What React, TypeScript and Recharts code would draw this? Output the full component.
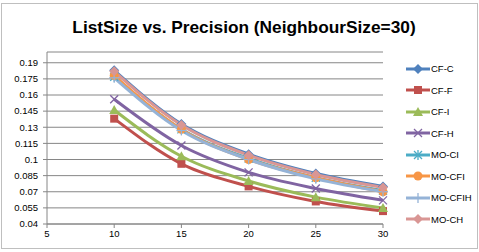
import React from "react";
import {
  LineChart,
  Line,
  XAxis,
  YAxis,
  CartesianGrid,
  Legend,
} from "recharts";

const listSizes = [10, 15, 20, 25, 30];
const xTicks = [5, 10, 15, 20, 25, 30];
const yTicks = [0.04, 0.055, 0.07, 0.085, 0.1, 0.115, 0.13, 0.145, 0.16, 0.175, 0.19];

const cfC = [0.183, 0.133, 0.105, 0.087, 0.075];
const cfF = [0.138, 0.096, 0.075, 0.061, 0.052];
const cfI = [0.146, 0.103, 0.08, 0.065, 0.055];
const cfH = [0.156, 0.113, 0.088, 0.073, 0.062];
const moCI = [0.177, 0.128, 0.101, 0.083, 0.071];
const moCFI = [0.178, 0.128, 0.1, 0.083, 0.07];
const moCFIH = [0.176, 0.127, 0.1, 0.082, 0.07];
const moCH = [0.182, 0.132, 0.104, 0.086, 0.074];

type Shape = "diamond" | "square" | "triangle" | "x" | "star" | "circle" | "plus";

const series: { key: string; values: number[]; color: string; shape: Shape }[] = [
  { key: "CF-C", values: cfC, color: "#4F81BD", shape: "diamond" },
  { key: "CF-F", values: cfF, color: "#C0504D", shape: "square" },
  { key: "CF-I", values: cfI, color: "#9BBB59", shape: "triangle" },
  { key: "CF-H", values: cfH, color: "#8064A2", shape: "x" },
  { key: "MO-CI", values: moCI, color: "#4BACC6", shape: "star" },
  { key: "MO-CFI", values: moCFI, color: "#F79646", shape: "circle" },
  { key: "MO-CFIH", values: moCFIH, color: "#95B3D7", shape: "plus" },
  { key: "MO-CH", values: moCH, color: "#D99694", shape: "diamond" },
];

const data = listSizes.map((x, i) => {
  const row: Record<string, number> = { x };
  series.forEach((s) => {
    row[s.key] = s.values[i];
  });
  return row;
});

const FONT = "'Liberation Sans', Arial, sans-serif";

const Marker = ({ shape, color, cx, cy }: { shape: Shape; color: string; cx: number; cy: number }) => {
  switch (shape) {
    case "diamond":
      return (
        <polygon
          points={`${cx},${cy - 5} ${cx + 5},${cy} ${cx},${cy + 5} ${cx - 5},${cy}`}
          fill={color}
        />
      );
    case "square":
      return <rect x={cx - 4} y={cy - 4} width={8} height={8} fill={color} />;
    case "triangle":
      return (
        <polygon
          points={`${cx},${cy - 5} ${cx + 5},${cy + 4} ${cx - 5},${cy + 4}`}
          fill={color}
        />
      );
    case "x":
      return (
        <g stroke={color} strokeWidth={1.3}>
          <line x1={cx - 4} y1={cy - 4} x2={cx + 4} y2={cy + 4} />
          <line x1={cx - 4} y1={cy + 4} x2={cx + 4} y2={cy - 4} />
        </g>
      );
    case "star":
      return (
        <g stroke={color} strokeWidth={1.3}>
          <line x1={cx - 4} y1={cy - 4} x2={cx + 4} y2={cy + 4} />
          <line x1={cx - 4} y1={cy + 4} x2={cx + 4} y2={cy - 4} />
          <line x1={cx} y1={cy - 5} x2={cx} y2={cy + 5} />
        </g>
      );
    case "circle":
      return <circle cx={cx} cy={cy} r={4.5} fill={color} />;
    case "plus":
      return (
        <g stroke={color} strokeWidth={1.3}>
          <line x1={cx - 5} y1={cy} x2={cx + 5} y2={cy} />
          <line x1={cx} y1={cy - 5} x2={cx} y2={cy + 5} />
        </g>
      );
  }
  return null;
};

const renderLegend = () => (
  <div style={{ fontFamily: FONT, fontSize: 9.5, color: "#000" }}>
    {series.map((s) => (
      <div key={s.key} style={{ display: "flex", alignItems: "center", height: 21.5 }}>
        <svg width={24} height={12} style={{ display: "block" }}>
          <line x1={0} y1={6} x2={24} y2={6} stroke={s.color} strokeWidth={3} />
          <Marker shape={s.shape} color={s.color} cx={12} cy={6} />
        </svg>
        <span style={{ marginLeft: 1 }}>{s.key}</span>
      </div>
    ))}
  </div>
);

export default function App() {
  return (
    <div
      style={{
        position: "absolute",
        left: 0,
        top: 0,
        width: 479,
        height: 252,
        background: "#fff",
      }}
    >
      <div
        style={{
          position: "absolute",
          left: 1,
          top: 3,
          width: 475,
          height: 244,
          border: "1px solid #bfbfbf",
        }}
      />
      <div
        style={{
          position: "absolute",
          left: 0,
          top: 17,
          width: 488,
          textAlign: "center",
          fontFamily: FONT,
          fontWeight: "bold",
          fontSize: 17.3,
          color: "#000",
        }}
      >
        ListSize vs. Precision (NeighbourSize=30)
      </div>
      <div style={{ position: "absolute", left: 0, top: 0 }}>
        <LineChart
          width={479}
          height={252}
          data={data}
          margin={{ top: 52, right: 96, bottom: 0, left: 0 }}
        >
          <CartesianGrid vertical={false} stroke="#868686" strokeWidth={1} />
          <XAxis
            dataKey="x"
            type="number"
            domain={[5, 30]}
            ticks={xTicks}
            height={28}
            tickSize={4}
            stroke="#868686"
            tick={{ fill: "#000", fontSize: 9.5, fontFamily: FONT }}
            interval={0}
          />
          <YAxis
            type="number"
            domain={[0.04, 0.2]}
            ticks={yTicks}
            width={47}
            tickSize={4}
            tickMargin={5}
            stroke="#868686"
            tick={{ fill: "#000", fontSize: 9.5, fontFamily: FONT }}
            interval={0}
            allowDataOverflow
          />
          <Legend
            layout="vertical"
            verticalAlign="middle"
            align="center"
            content={renderLegend}
            wrapperStyle={{ left: 406, top: 58, width: 72 }}
          />
          {series.map((s) => (
            <Line
              key={s.key}
              type="monotone"
              dataKey={s.key}
              stroke={s.color}
              strokeWidth={3}
              isAnimationActive={false}
              dot={(p: any) => (
                <Marker key={`${s.key}-${p.index}`} shape={s.shape} color={s.color} cx={p.cx} cy={p.cy} />
              )}
              activeDot={false}
            />
          ))}
        </LineChart>
      </div>
    </div>
  );
}
